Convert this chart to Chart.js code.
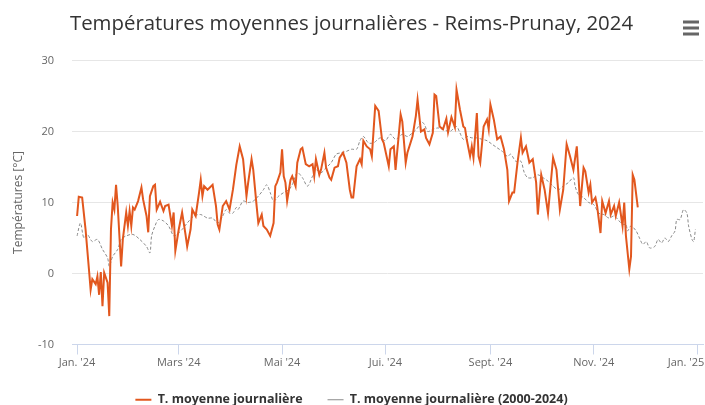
<!DOCTYPE html>
<html>
<head>
<meta charset="utf-8">
<script src="https://cdn.jsdelivr.net/npm/chart.js@4/dist/chart.umd.min.js"></script>
<style>
  html, body { margin: 0; padding: 0; background: #fff; }
  #wrap { width: 705px; height: 405px; }
</style>
</head>
<body>
<div id="wrap"><canvas id="chartTemp"></canvas></div>
<script>
// jours depuis le 1er janvier 2024
const moisTicks = [0, 60, 121, 182, 244, 305, 366];
const moisLabels = ["Jan. '24", "Mars '24", "Mai '24", "Jui. '24", "Sept. '24", "Nov. '24", "Jan. '25"];

// T. moyenne journalière 2024
const jours2024 = [0, 1, 3, 5, 7, 8, 9, 11, 12, 13, 14, 15, 16, 18, 19, 20, 21, 22, 23, 24,
  26, 27, 29, 30, 31, 32, 33, 34, 36, 38, 39, 41, 42, 43, 45, 46, 47, 49, 51, 52,
  54, 56, 57, 58, 60, 62, 64, 65, 67, 68, 70, 72, 73, 74, 75, 77, 80, 82, 83, 84,
  86, 88, 90, 92, 94, 96, 98, 100, 101, 103, 104, 106, 107, 109, 110, 112, 114, 116, 117, 118,
  120, 121, 122, 123, 124, 126, 127, 129, 130, 132, 133, 135, 137, 139, 140, 141, 143, 144, 146, 147,
  149, 150, 152, 154, 155, 157, 159, 161, 162, 163, 165, 167, 168, 169, 171, 173, 174, 176, 178, 180,
  181, 184, 185, 187, 188, 191, 192, 194, 195, 198, 200, 201, 203, 205, 206, 208, 210, 211, 212, 214,
  216, 218, 219, 221, 223, 224, 226, 228, 229, 230, 232, 233, 234, 236, 237, 238, 240, 242, 243, 244,
  246, 248, 250, 252, 254, 255, 257, 258, 260, 262, 263, 265, 267, 269, 271, 272, 274, 276, 278, 281,
  283, 285, 287, 289, 291, 293, 295, 297, 299, 300, 302, 303, 304, 306, 307, 309, 310, 312, 314, 315,
  317, 318, 320, 322, 323, 324, 326, 327, 328, 329, 331];
const tMoy2024 = [8.1, 10.8, 10.7, 6.2, 0.6, -2.3, -0.8, -1.5, -0.4, -3.0, 0.2, -4.6, 0.1, -1.3, -6.0, 6.2, 10.0, 9.0, 12.5, 9.5,
  1.0, 4.8, 8.6, 6.7, 8.8, 6.7, 9.3, 9.0, 10.2, 12.1, 10.4, 8.1, 5.8, 10.9, 12.3, 12.5, 9.0, 10.1, 8.8, 9.5,
  9.7, 6.7, 8.6, 3.2, 6.2, 8.6, 5.5, 3.8, 6.2, 9.0, 8.1, 11.4, 13.2, 10.9, 12.3, 11.8, 12.5, 9.5, 6.9, 6.2,
  9.5, 10.2, 9.0, 11.8, 15.3, 17.9, 16.1, 10.9, 12.8, 16.1, 14.6, 9.5, 7.1, 8.3, 6.7, 6.2, 5.3, 7.1, 12.3, 12.8,
  14.2, 17.5, 13.7, 12.8, 10.2, 13.2, 13.7, 12.3, 15.6, 17.5, 17.7, 15.4, 15.1, 15.4, 13.7, 16.1, 13.9, 14.6, 17.0, 14.9,
  13.5, 13.2, 14.9, 15.1, 16.3, 17.0, 15.6, 11.8, 10.7, 10.7, 15.1, 16.1, 15.4, 18.7, 17.9, 17.5, 16.5, 23.6, 22.9, 18.9,
  18.4, 15.1, 17.5, 17.9, 14.6, 22.4, 21.4, 15.6, 17.0, 19.3, 22.2, 24.5, 20.0, 20.3, 19.1, 18.2, 19.8, 25.2, 25.0, 20.7,
  20.3, 21.8, 19.9, 22.0, 20.6, 25.9, 23.1, 20.7, 20.5, 18.9, 16.5, 17.9, 16.3, 22.6, 16.5, 15.6, 20.7, 21.7, 20.3, 23.8,
  21.7, 18.9, 19.3, 17.5, 14.6, 10.2, 11.4, 11.4, 15.6, 19.1, 17.0, 17.9, 15.6, 16.1, 12.8, 8.3, 13.9, 11.8, 8.5, 16.3,
  14.6, 9.0, 11.8, 18.2, 16.5, 14.6, 17.9, 9.5, 14.9, 14.4, 11.4, 12.5, 10.0, 10.7, 9.5, 5.7, 10.2, 8.5, 10.2, 8.3,
  9.5, 8.1, 10.0, 6.7, 10.0, 5.3, 0.6, 2.4, 13.9, 13.2, 9.3];

// T. moyenne journalière (2000-2024)
const joursNormale = [0, 2, 4, 6, 9, 12, 15, 18, 19, 21, 24, 26, 29, 33, 37, 41, 43, 44, 46, 48,
  51, 54, 57, 59, 62, 65, 69, 73, 77, 80, 83, 86, 88, 90, 92, 94, 95, 98, 101, 104,
  107, 110, 112, 114, 116, 119, 122, 125, 127, 130, 133, 136, 139, 141, 144, 147, 150, 153, 156, 159,
  162, 165, 167, 169, 172, 175, 179, 182, 185, 188, 192, 195, 198, 201, 203, 205, 207, 210, 213, 216,
  220, 224, 226, 228, 230, 233, 236, 239, 242, 245, 248, 251, 254, 256, 259, 262, 264, 266, 269, 272,
  275, 278, 281, 284, 287, 290, 293, 294, 296, 299, 302, 305, 308, 311, 314, 317, 320, 322, 324, 325,
  327, 330, 332, 334, 336, 338, 341, 343, 345, 347, 349, 351, 353, 354, 356, 358, 360, 361, 363, 364, 365];
const tNormale = [5.3, 7.1, 5.0, 5.5, 4.5, 4.8, 3.4, 2.2, 1.0, 2.4, 3.4, 4.8, 5.3, 5.5, 4.8, 3.8, 2.9, 5.3, 6.7, 7.6,
  7.4, 6.7, 5.3, 5.5, 6.2, 7.1, 8.1, 8.3, 7.8, 7.8, 7.1, 8.1, 9.0, 8.5, 8.5, 9.3, 9.0, 10.2, 10.0, 10.2,
  10.9, 11.8, 12.5, 11.4, 10.2, 10.9, 11.4, 11.8, 12.5, 14.2, 13.5, 12.3, 13.7, 14.6, 14.2, 14.9, 15.6, 16.8, 17.0, 17.2,
  17.5, 17.5, 18.7, 19.3, 18.4, 18.4, 19.1, 18.7, 19.6, 18.9, 19.6, 19.3, 19.8, 20.5, 21.4, 21.0, 20.0, 20.3, 20.5, 20.3,
  20.0, 20.7, 19.8, 18.9, 19.3, 19.1, 19.1, 18.9, 18.7, 18.2, 17.7, 17.2, 16.5, 16.8, 15.8, 15.8, 14.2, 13.5, 13.5, 13.9,
  13.5, 13.0, 12.3, 11.8, 12.3, 12.8, 13.5, 12.3, 11.1, 10.7, 10.0, 9.7, 8.5, 8.3, 7.8, 8.1, 7.4, 6.9, 6.9, 6.0,
  6.7, 6.0, 5.0, 4.1, 4.5, 3.6, 3.8, 4.8, 4.3, 5.0, 4.5, 5.3, 6.0, 7.6, 7.6, 9.0, 8.5, 6.7, 4.8, 4.5, 6.2];

const toPoints = (xs, ys) => xs.map((x, i) => ({ x: x, y: ys[i] }));

// petit menu ≡ en haut à droite
const menuIcon = {
    id: 'menuIcon',
    afterDraw(chart) {
        const ctx = chart.ctx;
        ctx.save();
        ctx.fillStyle = '#666';
        [22, 28, 34].forEach(y => ctx.fillRect(683, y - 1.5, 16, 3));
        ctx.restore();
    }
};

new Chart(document.getElementById('chartTemp'), {
    type: 'line',
    data: {
        datasets: [{
            label: 'T. moyenne journalière',
            data: toPoints(jours2024, tMoy2024),
            borderColor: '#e2571e',
            backgroundColor: '#e2571e',
            borderWidth: 2,
            pointRadius: 0,
            tension: 0
        }, {
            label: 'T. moyenne journalière (2000-2024)',
            data: toPoints(joursNormale, tNormale),
            borderColor: '#8a8a8a',
            backgroundColor: '#8a8a8a',
            borderWidth: 1,
            borderDash: [3, 2],
            pointRadius: 0,
            tension: 0.3
        }]
    },
    options: {
        responsive: true,
        maintainAspectRatio: false,
        animation: false,
        layout: { padding: { left: 0, right: 2, top: 0, bottom: -11 } },
        plugins: {
            title: {
                display: true,
                text: 'Températures moyennes journalières - Reims-Prunay, 2024',
                color: '#333',
                font: { family: 'Open Sans', size: 20.4, weight: 'normal' },
                padding: { top: 12, bottom: 24 }
            },
            legend: {
                position: 'bottom',
                labels: {
                    usePointStyle: true,
                    pointStyle: 'line',
                    pointStyleWidth: 16,
                    boxHeight: 10,
                    padding: 25,
                    color: '#333',
                    font: { family: 'Open Sans', size: 12.5, weight: 'bold' }
                }
            },
            tooltip: { enabled: false }
        },
        scales: {
            x: {
                type: 'linear',
                min: -3,
                max: 369.5,
                afterBuildTicks: scale => { scale.ticks = moisTicks.map(v => ({ value: v })); },
                afterFit: scale => { scale.paddingRight = 0; scale.height = 24; },
                ticks: {
                    autoSkip: false,
                    maxRotation: 0,
                    color: '#666',
                    font: { family: 'Open Sans', size: 11 },
                    padding: 2,
                    // le dernier libellé est décalé vers la gauche pour rester visible
                    callback: v => {
                        const i = moisTicks.indexOf(v);
                        return i === moisTicks.length - 1 ? moisLabels[i] + '\u2002\u2002\u2002\u2002' : moisLabels[i];
                    }
                },
                grid: { drawOnChartArea: false, tickLength: 10, color: '#ccd6eb' },
                border: { color: '#ccd6eb' }
            },
            y: {
                min: -10,
                max: 30,
                afterFit: scale => { scale.width = 72; },
                ticks: {
                    stepSize: 10,
                    color: '#666',
                    font: { family: 'Open Sans', size: 11 },
                    padding: 18
                },
                grid: { color: '#e6e6e6', drawTicks: false },
                border: { display: false },
                title: {
                    display: true,
                    text: 'Températures [°C]',
                    color: '#666',
                    font: { family: 'Open Sans', size: 12 },
                    padding: { top: 11, bottom: 0 }
                }
            }
        }
    },
    plugins: [menuIcon]
});
</script>
</body>
</html>
